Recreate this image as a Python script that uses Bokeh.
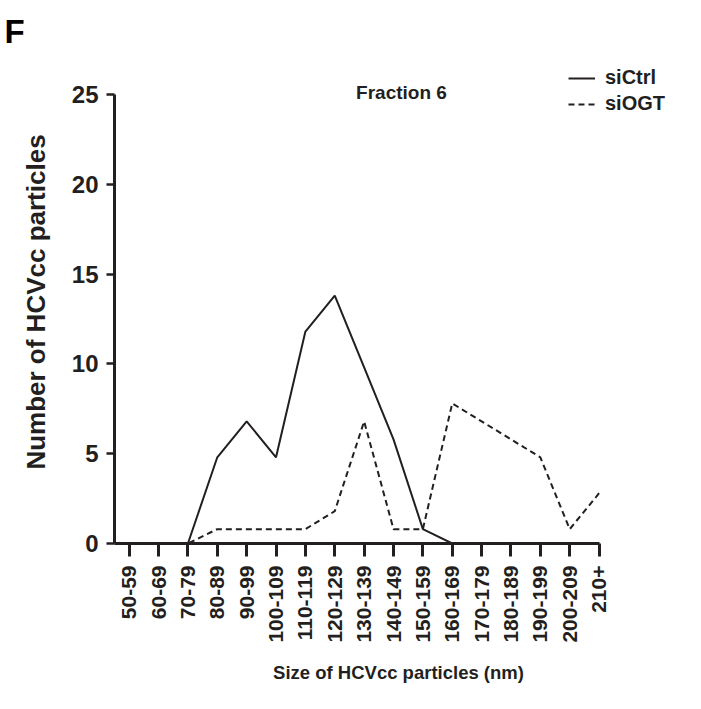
import math
from bokeh.plotting import figure
from bokeh.models import (Range1d, FixedTicker, Label, Legend, LegendItem,
                          ColumnDataSource, Title)
from bokeh.embed import file_html
from bokeh.resources import INLINE

# ---- data ----
size_bins = ["50-59", "60-69", "70-79", "80-89", "90-99", "100-109", "110-119",
             "120-129", "130-139", "140-149", "150-159", "160-169", "170-179",
             "180-189", "190-199", "200-209", "210+"]
si_ctrl = [0, 0, 0, 4.8, 6.8, 4.8, 11.8, 13.8, 9.8, 5.8, 0.8, 0, 0, 0, 0, 0, 0]
si_ogt = [0, 0, 0, 0.8, 0.8, 0.8, 0.8, 1.8, 6.8, 0.8, 0.8, 7.8, 6.8, 5.8, 4.8, 0.8, 2.8]
y_ticks = [0, 5, 10, 15, 20, 25]
y_max = 25

FONT = "Liberation Sans"
INK = "#231f20"

idx = list(range(len(size_bins)))
src = ColumnDataSource(dict(x=idx, ctrl=si_ctrl, ogt=si_ogt))

p = figure(width=685, height=693, output_backend="svg", toolbar_location=None,
           x_range=Range1d(-0.5, 18.84), y_range=Range1d(0, 26.893),
           min_border_left=114, min_border_right=3, min_border_top=60,
           min_border_bottom=150)
p.outline_line_color = None
p.grid.visible = False
p.background_fill_color = "white"
p.border_fill_color = "white"

r1 = p.line("x", "ctrl", source=src, line_color=INK, line_width=2)
r2 = p.line("x", "ogt", source=src, line_color=INK, line_width=2, line_dash="6 4")

# x axis
xa = p.xaxis[0]
xa.bounds = (-0.5, len(size_bins) - 1)
xa.ticker = FixedTicker(ticks=idx)
xa.major_label_overrides = {i: s for i, s in zip(idx, size_bins)}
xa.major_label_orientation = math.pi / 2
xa.major_label_text_font = FONT
xa.major_label_text_font_style = "bold"
xa.major_label_text_font_size = "21px"
xa.major_label_text_color = INK
xa.major_label_standoff = 9
xa.major_tick_out = 13
xa.major_tick_in = 0
xa.minor_tick_out = 0
xa.minor_tick_in = 0
xa.axis_line_width = 3
xa.major_tick_line_width = 3
xa.axis_line_color = INK
xa.major_tick_line_color = INK
xa.axis_label = "Size of HCVcc particles (nm)"
xa.axis_label_text_font = FONT
xa.axis_label_text_font_style = "bold"
xa.axis_label_text_font_size = "18.5px"
xa.axis_label_text_color = INK
xa.axis_label_standoff = 16

# y axis
ya = p.yaxis[0]
ya.bounds = (0, y_max)
ya.ticker = FixedTicker(ticks=y_ticks)
ya.major_label_text_font = FONT
ya.major_label_text_font_style = "bold"
ya.major_label_text_font_size = "24px"
ya.major_label_text_color = INK
ya.major_label_standoff = 8
ya.major_tick_out = 8
ya.major_tick_in = 0
ya.minor_tick_out = 0
ya.minor_tick_in = 0
ya.axis_line_width = 3
ya.major_tick_line_width = 2.5
ya.axis_line_color = INK
ya.major_tick_line_color = INK
ya.axis_label = "Number of HCVcc particles"
ya.axis_label_text_font = FONT
ya.axis_label_text_font_style = "bold"
ya.axis_label_text_font_size = "26px"
ya.axis_label_text_color = INK
ya.axis_label_standoff = 18

# legend
legend = Legend(items=[LegendItem(label="siCtrl", renderers=[r1]),
                       LegendItem(label="siOGT", renderers=[r2])],
                location=(454, 428), orientation="vertical",
                label_text_font=FONT, label_text_font_style="bold",
                label_text_font_size="20px", label_text_color=INK,
                glyph_width=27, glyph_height=22, label_height=22,
                label_standoff=10, spacing=3, padding=0, margin=0,
                border_line_color=None, background_fill_alpha=0)
p.add_layout(legend)

# panel subtitle inside the frame
p.add_layout(Label(x=287, y=451, x_units="screen", y_units="screen",
                   text="Fraction 6", text_font=FONT, text_font_style="bold",
                   text_font_size="19px", text_color=INK,
                   text_align="center", text_baseline="middle"))

# panel letter
p.add_layout(Title(text="F", align="left", offset=-110, standoff=21,
                   text_font=FONT, text_font_style="bold",
                   text_font_size="33px", text_color="black"), "above")

open("out.html", "w").write(file_html(p, INLINE))
